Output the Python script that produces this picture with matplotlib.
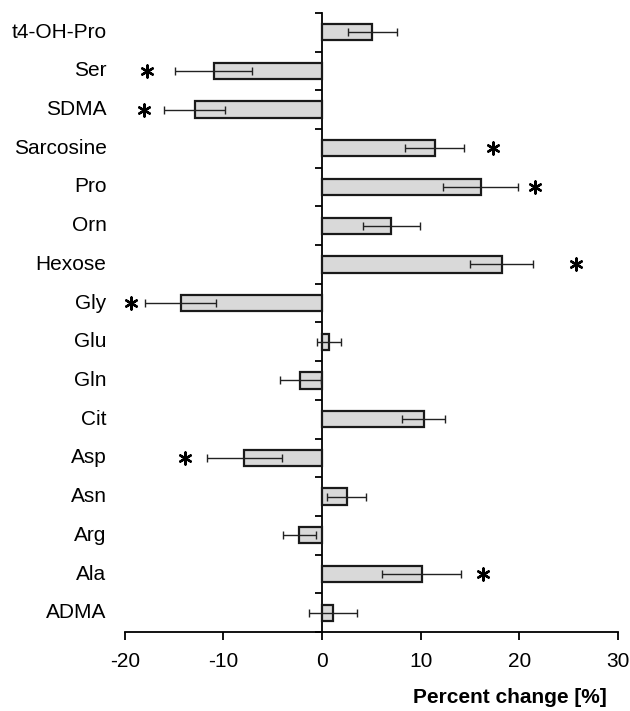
import numpy as np
import matplotlib
matplotlib.use('Agg')
import matplotlib.pyplot as plt
from matplotlib.transforms import blended_transform_factory

plt.rcParams['font.family'] = ['Liberation Sans', 'DejaVu Sans']
plt.rcParams['axes.unicode_minus'] = False

# metabolites, bottom to top
metabolites = ['ADMA', 'Ala', 'Arg', 'Asn', 'Asp', 'Cit', 'Gln', 'Glu', 'Gly',
               'Hexose', 'Orn', 'Pro', 'Sarcosine', 'SDMA', 'Ser', 't4-OH-Pro']
change = [1.1, 10.1, -2.3, 2.5, -7.9, 10.3, -2.2, 0.7, -14.3,
          18.2, 7.0, 16.1, 11.4, -12.9, -11.0, 5.1]
error = [2.4, 4.0, 1.7, 2.0, 3.8, 2.2, 2.1, 1.2, 3.6,
         3.2, 2.9, 3.8, 3.0, 3.1, 3.9, 2.5]
# significance markers: (metabolite, x position)
star_names = ['Ala', 'Asp', 'Gly', 'Hexose', 'Pro', 'Sarcosine', 'SDMA', 'Ser']
star_x = [16.3, -13.9, -19.4, 25.7, 21.6, 17.3, -18.0, -17.7]

fig = plt.figure(figsize=(6.3, 7.11), dpi=100)
ax = fig.add_axes([0.198, 0.111, 0.783, 0.871])

y = np.arange(len(metabolites))
ax.barh(y, change, height=0.42, color='#d9d9d9', edgecolor='#1a1a1a',
        linewidth=1.6, zorder=2)
ax.errorbar(change, y, xerr=error, fmt='none', ecolor='#222222',
            elinewidth=1.0, capsize=2.8, capthick=1.0, zorder=3)

star_y = [metabolites.index(n) for n in star_names]
ax.scatter(star_x, star_y, marker=(6, 2, 0), s=75, color='black',
           linewidths=1.7, zorder=4)

ax.set_xlim(-20, 30)
ax.set_ylim(-0.5, len(metabolites) - 0.5)
ax.set_xticks([-20, -10, 0, 10, 20, 30])
ax.tick_params(axis='x', labelsize=15, length=6, width=1.3, direction='out',
               pad=8)

# category labels at the left of the axes
ax.set_yticks([])
tr = blended_transform_factory(ax.transAxes, ax.transData)
for yi, name in zip(y, metabolites):
    ax.text(-0.037, yi, name, transform=tr, ha='right', va='center',
            fontsize=15)

for s in ['top', 'right', 'left']:
    ax.spines[s].set_visible(False)
ax.spines['bottom'].set_linewidth(1.3)

# vertical axis at x = 0 with ticks between categories
sec = ax.secondary_yaxis(0.4)
sec.set_yticks(np.arange(-0.5, len(metabolites), 1.0))
sec.set_yticklabels([])
sec.tick_params(length=5, width=1.3, direction='out')
sec.spines['left'].set_linewidth(1.3)

ax.set_xlabel('Percent change [%]', fontsize=15, fontweight='bold',
              ha='right', va='center')
ax.xaxis.set_label_coords(0.978, -0.105)

fig.savefig('out.png', dpi=100)
